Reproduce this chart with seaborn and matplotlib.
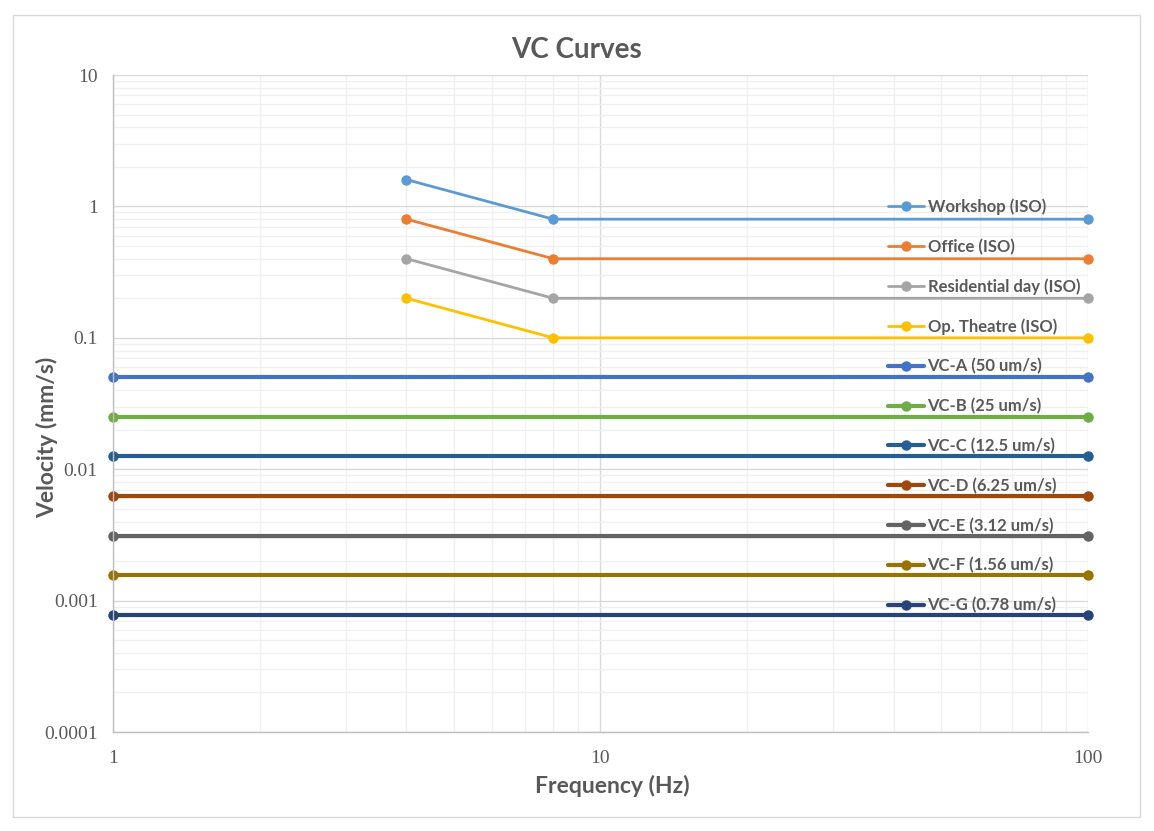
import matplotlib
matplotlib.use("Agg")
import matplotlib.pyplot as plt
import matplotlib.ticker as mticker
from matplotlib.patches import Rectangle
import seaborn as sns

# ISO curves: start at 4 Hz, knee at 8 Hz, flat to 100 Hz
iso_freq = [4, 8, 100]
workshop = [1.6, 0.8, 0.8]
office = [0.8, 0.4, 0.4]
residential = [0.4, 0.2, 0.2]
op_theatre = [0.2, 0.1, 0.1]

# VC curves: flat from 1 to 100 Hz
vc_freq = [1, 100]
vc_a = [0.05, 0.05]
vc_b = [0.025, 0.025]
vc_c = [0.0125, 0.0125]
vc_d = [0.00625, 0.00625]
vc_e = [0.003125, 0.003125]
vc_f = [0.0015625, 0.0015625]
vc_g = [0.00078, 0.00078]

iso_series = [
    ("Workshop (ISO)", workshop, "#5B9BD5"),
    ("Office (ISO)", office, "#ED7D31"),
    ("Residential day (ISO)", residential, "#A5A5A5"),
    ("Op. Theatre (ISO)", op_theatre, "#FFC000"),
]
vc_series = [
    ("VC-A (50 um/s)", vc_a, "#4472C4"),
    ("VC-B (25 um/s)", vc_b, "#70AD47"),
    ("VC-C (12.5 um/s)", vc_c, "#255E91"),
    ("VC-D (6.25 um/s)", vc_d, "#9E480E"),
    ("VC-E (3.12 um/s)", vc_e, "#636363"),
    ("VC-F (1.56 um/s)", vc_f, "#997300"),
    ("VC-G (0.78 um/s)", vc_g, "#264478"),
]

sns.set_style("white")
plt.rcParams["font.family"] = ["Lato", "DejaVu Sans"]

fig = plt.figure(figsize=(11.54, 8.31), dpi=100)
ax = fig.add_axes([0.0979, 0.1191, 0.8449, 0.7906])

for name, vals, col in iso_series:
    sns.lineplot(x=iso_freq, y=vals, ax=ax, color=col, lw=2, marker="o",
                 markersize=7.5, markeredgewidth=0, label=name, clip_on=False)
for name, vals, col in vc_series:
    sns.lineplot(x=vc_freq, y=vals, ax=ax, color=col, lw=3, marker="o",
                 markersize=7.5, markeredgewidth=0, label=name, clip_on=False)

ax.set_xscale("log")
ax.set_yscale("log")
ax.set_xlim(1, 100)
ax.set_ylim(0.0001, 10)

ax.xaxis.set_major_locator(mticker.LogLocator(base=10, numticks=10))
ax.xaxis.set_minor_locator(mticker.LogLocator(base=10, subs=range(2, 10), numticks=20))
ax.yaxis.set_major_locator(mticker.LogLocator(base=10, numticks=10))
ax.yaxis.set_minor_locator(mticker.LogLocator(base=10, subs=range(2, 10), numticks=20))
ax.xaxis.set_major_formatter(mticker.FuncFormatter(lambda v, p: f"{v:g}"))
ax.yaxis.set_major_formatter(mticker.FuncFormatter(lambda v, p: f"{v:.4f}".rstrip("0").rstrip(".")))
ax.xaxis.set_minor_formatter(mticker.NullFormatter())
ax.yaxis.set_minor_formatter(mticker.NullFormatter())

ax.grid(True, which="major", color="#D9D9D9", lw=1)
ax.grid(True, which="minor", color="#F0F0F0", lw=1)
ax.set_axisbelow(True)

ax.tick_params(which="both", length=0)
ax.tick_params(axis="x", pad=13, labelsize=14, labelcolor="#595959")
ax.tick_params(axis="y", pad=11, labelsize=14, labelcolor="#595959")
for lab in ax.get_xticklabels() + ax.get_yticklabels():
    lab.set_family("Liberation Serif")

for side in ["top", "right"]:
    ax.spines[side].set_visible(False)
for side in ["left", "bottom"]:
    ax.spines[side].set_color("#BFBFBF")
    ax.spines[side].set_linewidth(1)

fig.text(577 / 1154, 1 - 50 / 831, "VC Curves", fontsize=20, fontweight="bold",
         color="#595959", ha="center", va="center")
fig.text(612 / 1154, 1 - 786 / 831, "Frequency (Hz)", fontsize=16.5, fontweight="bold",
         color="#595959", ha="center", va="center")
fig.text(47 / 1154, 1 - 437 / 831, "Velocity (mm/s)", fontsize=16.5, fontweight="bold",
         color="#595959", ha="center", va="center", rotation=90)

leg = ax.legend(loc="upper left", bbox_to_anchor=(0.779, 0.835), frameon=False,
                handlelength=2.2, handletextpad=0.2, labelspacing=1.41,
                prop={"family": "Lato", "weight": "bold", "size": 12})
for t in leg.get_texts():
    t.set_color("#595959")

fig.patches.append(Rectangle((13 / 1154, 1 - 817 / 831), 1127 / 1154, 802 / 831,
                             transform=fig.transFigure, fill=False,
                             edgecolor="#D9D9D9", lw=1))

fig.savefig("out.png", dpi=100)
